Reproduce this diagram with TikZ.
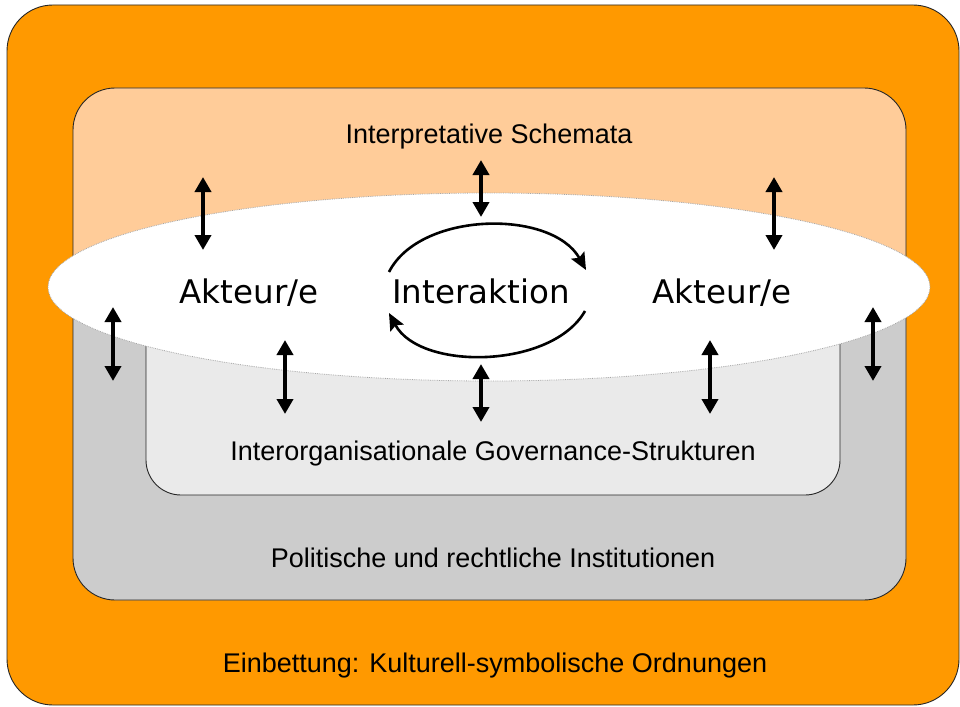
\documentclass[tikz,border=0pt]{standalone}
\usepackage{fontspec}
\setmainfont{Liberation Sans}
\newfontfamily\verd{DejaVu Sans}
\usetikzlibrary{arrows.meta}
\definecolor{orangeA}{HTML}{FF9900}
\definecolor{peachA}{HTML}{FFCC99}
\definecolor{grayA}{HTML}{CCCCCC}
\definecolor{lgrayA}{HTML}{EAEAEA}
\tikzset{
  frame/.style={draw=black!85, line width=0.9pt},
  dbl/.style={line width=4pt, {Triangle[length=15pt,width=16pt]}-{Triangle[length=15pt,width=16pt]}},
  circ/.style={line width=2.6pt, -{Stealth[length=17pt,width=15pt,inset=3pt]}},
  lab/.style={font=\fontsize{27}{30}\selectfont, anchor=base, inner sep=0pt},
  big/.style={font=\verd\fontsize{32.5}{36}\selectfont, anchor=base, inner sep=0pt}
}
\begin{document}
\begin{tikzpicture}[x=1pt,y=-1pt]
\useasboundingbox (0,0) rectangle (960,706);
% outer
\draw[frame, fill=orangeA, rounded corners=46pt] (7,5) rectangle (959,705);
% peach / gray
\fill[peachA, rounded corners=42pt] (73,88) rectangle (906,600);
\begin{scope}
  \clip (0,290) rectangle (960,706);
  \fill[grayA, rounded corners=42pt] (73,88) rectangle (906,600);
\end{scope}
\draw[frame, rounded corners=42pt] (73,88) rectangle (906,600);
% light gray
\draw[frame, fill=lgrayA, rounded corners=35pt] (146,290) rectangle (840,495);
% ellipse
\draw[gray!70, line width=0.8pt, densely dotted, fill=white] (489,287) ellipse [x radius=441, y radius=94];
% texts
\node[lab] (schem) at (489,143) {Interpretative Schemata};
\node[big] (ak1) at (249,303) {Akteur/e};
\node[big] (inter) at (481,303) {Interaktion};
\node[big] (ak2) at (722,303) {Akteur/e};
\node[lab] (gov) at (493,460) {Interorganisationale Governance-Strukturen};
\node[lab] (pol) at (493,567) {Politische und rechtliche Institutionen};
\node[lab] (ein) at (495,672) {Einbettung: Kulturell-symbolische Ordnungen};
% arrow coordinates
\coordinate (a1t) at (203,177); \coordinate (a1b) at (203,250);
\coordinate (a2t) at (481,160); \coordinate (a2b) at (481,217);
\coordinate (a3t) at (774,177); \coordinate (a3b) at (774,250);
\coordinate (a4t) at (113,307); \coordinate (a4b) at (113,381);
\coordinate (a5t) at (285,340); \coordinate (a5b) at (285,414);
\coordinate (a6t) at (481,364); \coordinate (a6b) at (481,422);
\coordinate (a7t) at (710,340); \coordinate (a7b) at (710,414);
\coordinate (a8t) at (873,307); \coordinate (a8b) at (873,381);
\foreach \i in {1,...,8} \draw[dbl] (a\i t) -- (a\i b);
% circular arrows
\coordinate (c1s) at (389,272); \coordinate (c1e) at (586,270);
\coordinate (c2s) at (585,311); \coordinate (c2e) at (389,313);
\draw[circ] (c1s) .. controls (420,211) and (552,209) .. (c1e);
\draw[circ] (c2s) .. controls (552,369) and (420,371) .. (c2e);
\end{tikzpicture}
\end{document}
